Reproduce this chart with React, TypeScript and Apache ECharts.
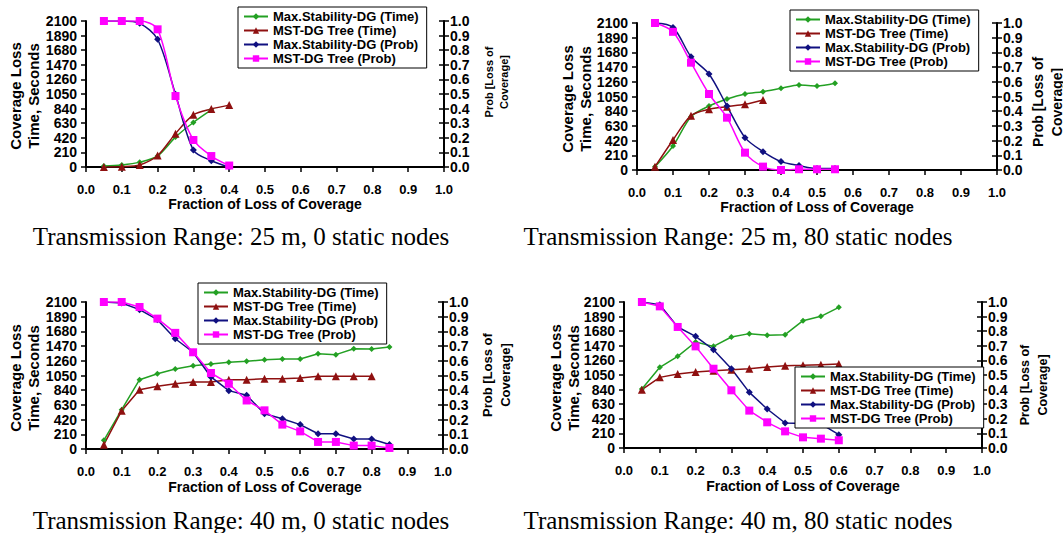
import React, { useEffect, useRef } from "react";
import * as echarts from "echarts";

// ---------- data ----------
const seriesNames = [
  "Max.Stability-DG (Time)",
  "MST-DG Tree (Time)",
  "Max.Stability-DG (Prob)",
  "MST-DG Tree (Prob)",
];
const captions = [
  "Transmission Range: 25 m, 0 static nodes",
  "Transmission Range: 25 m, 80 static nodes",
  "Transmission Range: 40 m, 0 static nodes",
  "Transmission Range: 40 m, 80 static nodes",
];
const xTicks = [0, 0.1, 0.2, 0.3, 0.4, 0.5, 0.6, 0.7, 0.8, 0.9, 1.0];

// 25 m, 0 static nodes
const frac1 = [0.05, 0.1, 0.15, 0.2, 0.25, 0.3, 0.35, 0.4];
const maxTime1 = [15, 30, 70, 160, 430, 640, 820];
const mstTime1 = [0, 5, 30, 165, 480, 750, 835, 890];
const maxProb1 = [1.0, 1.0, 0.984, 0.875, 0.498, 0.116, 0.043, 0.0];
const mstProb1 = [1.0, 1.0, 1.0, 0.943, 0.486, 0.185, 0.075, 0.01];

// 25 m, 80 static nodes
const frac2 = [0.05, 0.1, 0.15, 0.2, 0.25, 0.3, 0.35, 0.4, 0.45, 0.5, 0.55];
const maxTime2 = [47, 343, 762, 914, 1014, 1086, 1119, 1167, 1214, 1200, 1238];
const mstTime2 = [47, 429, 776, 867, 905, 938, 1000];
const maxProb2 = [1.0, 0.97, 0.77, 0.653, 0.435, 0.22, 0.125, 0.057, 0.03, 0.01, 0.01];
const mstProb2 = [1.0, 0.94, 0.73, 0.517, 0.356, 0.118, 0.023, 0.0, 0.005, 0.005, 0.005];

// 40 m, 0 static nodes
const frac3 = [0.05, 0.1, 0.15, 0.2, 0.25, 0.3, 0.35, 0.4, 0.45, 0.5, 0.55, 0.6, 0.65, 0.7, 0.75, 0.8, 0.85];
const maxTime3 = [124, 562, 990, 1076, 1143, 1190, 1214, 1238, 1252, 1276, 1286, 1286, 1362, 1348, 1433, 1429, 1457];
const mstTime3 = [62, 548, 848, 895, 933, 957, 957, 990, 990, 1005, 1005, 1014, 1038, 1038, 1038, 1038];
const maxProb3 = [1.0, 0.993, 0.948, 0.88, 0.75, 0.658, 0.49, 0.397, 0.365, 0.24, 0.206, 0.166, 0.104, 0.104, 0.068, 0.068, 0.03];
const mstProb3 = [1.0, 1.0, 0.966, 0.887, 0.79, 0.658, 0.517, 0.444, 0.33, 0.263, 0.166, 0.12, 0.048, 0.048, 0.023, 0.023, 0.007];

// 40 m, 80 static nodes
const frac4 = [0.05, 0.1, 0.15, 0.2, 0.25, 0.3, 0.35, 0.4, 0.45, 0.5, 0.55, 0.6];
const maxTime4 = [849, 1160, 1318, 1525, 1462, 1597, 1645, 1620, 1630, 1831, 1894, 2023];
const mstTime4 = [839, 1016, 1064, 1093, 1112, 1127, 1141, 1165, 1184, 1189, 1199, 1208];
const maxProb4 = [1.0, 0.982, 0.829, 0.765, 0.673, 0.543, 0.381, 0.267, 0.171, 0.168, 0.165, 0.091];
const mstProb4 = [1.0, 0.97, 0.829, 0.696, 0.543, 0.395, 0.256, 0.176, 0.114, 0.073, 0.064, 0.053];

const panelData = [
  { frac: frac1, vals: [maxTime1, mstTime1, maxProb1, mstProb1] },
  { frac: frac2, vals: [maxTime2, mstTime2, maxProb2, mstProb2] },
  { frac: frac3, vals: [maxTime3, mstTime3, maxProb3, mstProb3] },
  { frac: frac4, vals: [maxTime4, mstTime4, maxProb4, mstProb4] },
];

// ---------- layout / style ----------
const FONT = '"Liberation Sans", Arial, Helvetica, sans-serif';
const SERIF = '"Liberation Serif", "Times New Roman", serif';
const colors = ["#23a023", "#8f1010", "#101080", "#ff00ff"];
const symbols = ["diamond", "triangle", "diamond", "rect"];
const symbolSizes = [6, 8, 7, 8];

const panels = [
  {
    grid: { left: 86, top: 21, width: 358, height: 146 },
    smooth: 0.3,
    legend: { left: 238, top: 7 },
    yTitle: { x: 24, y: 96 },
    pTitle: { x: 496, y: 82, size: 11, lh: 15 },
    xTitle: { x: 265, y: 204 },
    caption: { x: 241, y: 236 },
  },
  {
    grid: { left: 637, top: 23, width: 360, height: 147 },
    smooth: 0.3,
    legend: { left: 790, top: 10 },
    yTitle: { x: 576, y: 99 },
    pTitle: { x: 1047, y: 102, size: 14, lh: 19 },
    xTitle: { x: 817, y: 207 },
    caption: { x: 738, y: 236 },
  },
  {
    grid: { left: 86, top: 302, width: 357, height: 147 },
    smooth: false,
    legend: { left: 198, top: 283 },
    yTitle: { x: 24, y: 378 },
    pTitle: { x: 496, y: 375, size: 13, lh: 18 },
    xTitle: { x: 265, y: 487 },
    caption: { x: 241, y: 520 },
  },
  {
    grid: { left: 624, top: 302, width: 358, height: 146 },
    smooth: false,
    legend: { left: 795, top: 367 },
    yTitle: { x: 564, y: 378 },
    pTitle: { x: 1034, y: 385, size: 12.5, lh: 18 },
    xTitle: { x: 803, y: 486 },
    caption: { x: 738, y: 520 },
  },
];

function buildOption() {
  const grid: any[] = [];
  const xAxis: any[] = [];
  const yAxis: any[] = [];
  const series: any[] = [];
  const legend: any[] = [];
  const graphic: any[] = [];

  panels.forEach((p, gi) => {
    grid.push({ ...p.grid, containLabel: false });
    xAxis.push({
      type: "value",
      gridIndex: gi,
      min: 0,
      max: 1,
      interval: 0.1,
      axisLine: { show: true, lineStyle: { color: "#000", width: 2 } },
      axisTick: { show: true, inside: false, length: 5, lineStyle: { color: "#000", width: 1.5 } },
      axisLabel: {
        margin: 16,
        color: "#000",
        fontFamily: FONT,
        fontWeight: "bold",
        fontSize: 13,
        formatter: (v: number) => {
          const t = xTicks.find((k) => Math.abs(k - v) < 1e-6);
          return (t !== undefined ? t : v).toFixed(1);
        },
      },
      splitLine: { show: false },
    });
    // left time axis
    yAxis.push({
      type: "value",
      gridIndex: gi,
      position: "left",
      min: 0,
      max: 2100,
      interval: 210,
      axisLine: { show: true, lineStyle: { color: "#000", width: 2 } },
      axisTick: { show: true, inside: false, length: 5, lineStyle: { color: "#000", width: 1.5 } },
      axisLabel: {
        margin: 9,
        color: "#000",
        fontFamily: FONT,
        fontWeight: "bold",
        fontSize: 14,
        formatter: (v: number) => String(Math.round(v)),
      },
      splitLine: { show: false },
    });
    // right prob axis
    yAxis.push({
      type: "value",
      gridIndex: gi,
      position: "right",
      min: 0,
      max: 1,
      interval: 0.1,
      axisLine: { show: true, lineStyle: { color: "#000", width: 2 } },
      axisTick: { show: true, inside: false, length: 5, lineStyle: { color: "#000", width: 1.5 } },
      axisLabel: {
        margin: 6,
        color: "#000",
        fontFamily: FONT,
        fontWeight: "bold",
        fontSize: 14,
        formatter: (v: number) => v.toFixed(1),
      },
      splitLine: { show: false },
    });
    // inner ticks of right axis (ticks cross the axis)
    yAxis.push({
      type: "value",
      gridIndex: gi,
      position: "right",
      min: 0,
      max: 1,
      interval: 0.1,
      axisLine: { show: false },
      axisTick: { show: true, inside: true, length: 5, lineStyle: { color: "#000", width: 1.5 } },
      axisLabel: { show: false },
      splitLine: { show: false },
    });

    const d = panelData[gi];
    d.vals.forEach((vals, si) => {
      series.push({
        type: "line",
        name: seriesNames[si],
        xAxisIndex: gi,
        yAxisIndex: gi * 3 + (si < 2 ? 0 : 1),
        data: vals.map((v, i) => [d.frac[i], v]),
        smooth: p.smooth,
        symbol: symbols[si],
        symbolSize: symbolSizes[si],
        showAllSymbol: true,
        itemStyle: { color: colors[si] },
        lineStyle: { color: colors[si], width: 1.5 },
        z: si === 3 ? 3 : 2,
      });
    });

    legend.push({
      left: p.legend.left,
      top: p.legend.top,
      orient: "vertical",
      data: seriesNames,
      backgroundColor: "#fff",
      borderColor: "#000",
      borderWidth: 1,
      borderRadius: 0,
      padding: [3, 8, 3, 5],
      itemGap: 1,
      itemWidth: 24,
      itemHeight: 8,
      selectedMode: false,
      textStyle: { color: "#000", fontFamily: FONT, fontWeight: "bold", fontSize: 13, lineHeight: 13 },
      z: 10,
    });

    graphic.push({
      type: "text",
      x: p.yTitle.x,
      y: p.yTitle.y,
      rotation: Math.PI / 2,
      style: {
        text: "Coverage Loss\nTime, Seconds",
        fontFamily: FONT,
        fontWeight: "bold",
        fontSize: 15,
        lineHeight: 18,
        fill: "#000",
        align: "center",
        verticalAlign: "middle",
      },
    });
    graphic.push({
      type: "text",
      x: p.pTitle.x,
      y: p.pTitle.y,
      rotation: Math.PI / 2,
      style: {
        text: "Prob [Loss of\nCoverage]",
        fontFamily: FONT,
        fontWeight: "bold",
        fontSize: p.pTitle.size,
        lineHeight: p.pTitle.lh,
        fill: "#000",
        align: "center",
        verticalAlign: "middle",
      },
    });
    graphic.push({
      type: "text",
      x: p.xTitle.x,
      y: p.xTitle.y,
      style: {
        text: "Fraction of Loss of Coverage",
        fontFamily: FONT,
        fontWeight: "bold",
        fontSize: 14,
        fill: "#000",
        align: "center",
        verticalAlign: "middle",
      },
    });
    graphic.push({
      type: "text",
      x: p.caption.x,
      y: p.caption.y,
      style: {
        text: captions[gi],
        fontFamily: SERIF,
        fontSize: 25,
        fill: "#000",
        align: "center",
        verticalAlign: "middle",
      },
    });
  });

  return {
    animation: false,
    backgroundColor: "#fff",
    grid,
    xAxis,
    yAxis,
    series,
    legend,
    graphic,
  };
}

export default function App() {
  const ref = useRef<HTMLDivElement>(null);
  useEffect(() => {
    if (!ref.current) return;
    const chart = echarts.init(ref.current, undefined, { renderer: "svg" });
    chart.setOption(buildOption() as any);
    return () => chart.dispose();
  }, []);
  return (
    <div
      ref={ref}
      style={{ position: "absolute", left: 0, top: 0, width: 1063, height: 533, background: "#fff" }}
    />
  );
}
